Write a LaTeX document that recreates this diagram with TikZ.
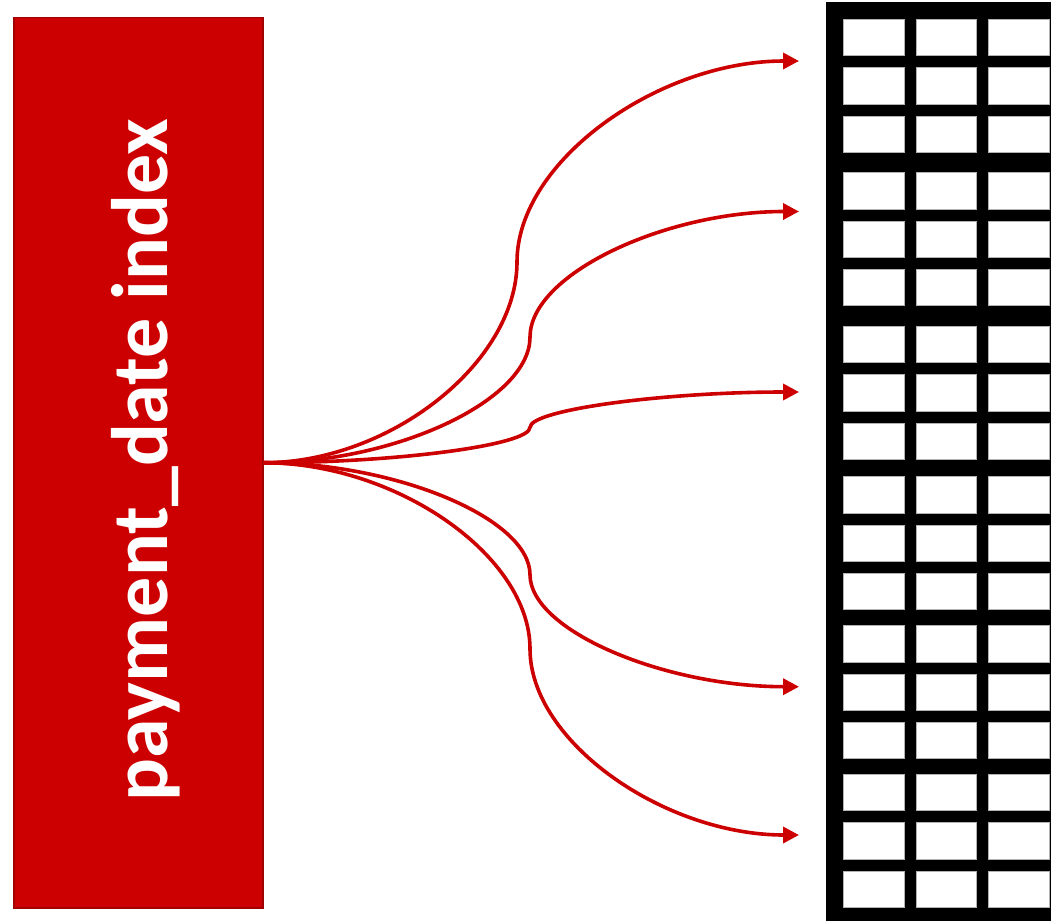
\documentclass[tikz,border=0pt]{standalone}
\usepackage{fontspec}
\newfontfamily\carl{Carlito}
\usetikzlibrary{arrows.meta,calc}
\definecolor{idxred}{HTML}{CC0000}
\definecolor{idxborder}{HTML}{A00000}
\tikzset{
  idxbox/.style={draw=idxborder, line width=1.5pt, fill=idxred, minimum width=249pt, minimum height=890pt, inner sep=0pt, anchor=north west},
  idxtext/.style={text=white, font=\carl\bfseries\fontsize{80}{80}\selectfont, rotate=90, inner sep=0pt},
  conn/.style={draw=idxred, line width=3.6pt, -{Triangle[length=16pt,width=16pt]}},
  cell/.style={fill=white, draw=gray!60, line width=0.5pt}
}
\newcommand\mkconn[2]{%
  \draw[conn] let \p1=(idx.east), \p2=(#2) in
    (\p1) .. controls ({(\x1+#1pt)/2},\y1) and (#1pt,{\y1+(\y2-\y1)/4}) ..
    (#1pt,{(\y1+\y2)/2}) .. controls (#1pt,{\y1+3*(\y2-\y1)/4}) and ({(#1pt+\x2)/2},\y2) .. (\p2);}
\begin{document}
\begin{tikzpicture}[x=1pt,y=-1pt]
\useasboundingbox (0,0) rectangle (1051,923);
% index box
\node[idxbox] (idx) at (13,17) {};
\node[idxtext] (lbl) at (146,460) {payment\_date index};
% table
\fill[black] (826,2) rectangle (1051,921);
\foreach \g in {19.3,172.7,326.3,476.7,625.5,774.3}
  \foreach \r in {0,48.3,96.5}
    \foreach \c in {843.3,916,988.3}
      \path[cell] (\c,{\g+\r}) rectangle ++(60.7,36.4);
% targets
\coordinate (t1) at (799,61);
\coordinate (t2) at (799,211.5);
\coordinate (t3) at (799,392);
\coordinate (t4) at (799,686.7);
\coordinate (t5) at (799,835);
\mkconn{517}{t1}
\mkconn{530}{t2}
\mkconn{530}{t3}
\mkconn{530}{t4}
\mkconn{530}{t5}
\end{tikzpicture}
\end{document}
